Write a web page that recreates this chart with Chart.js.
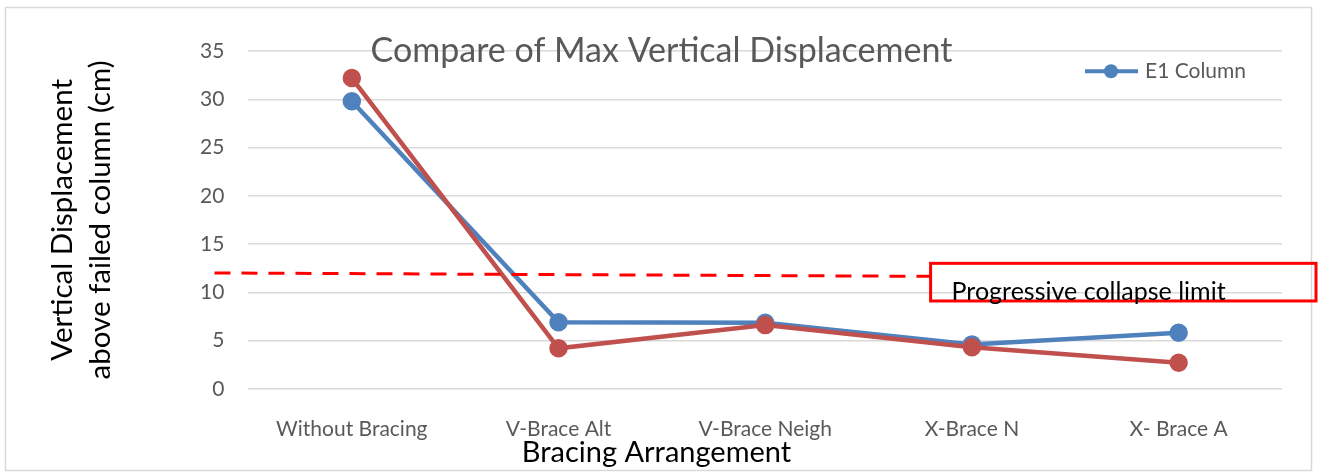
<!DOCTYPE html>
<html>
<head>
<meta charset="utf-8">
<title>Compare of Max Vertical Displacement</title>
<script src="https://cdn.jsdelivr.net/npm/chart.js@4.4.1/dist/chart.umd.min.js"></script>
<style>
  html, body { margin: 0; padding: 0; background: #fff; }
  #wrap { width: 1318px; height: 473px; position: relative; }
</style>
</head>
<body>
<div id="wrap"><canvas id="chart1"></canvas></div>
<script>
// data
const categories = ['Without Bracing', 'V-Brace Alt', 'V-Brace Neigh', 'X-Brace N', 'X- Brace A'];
const e1Column = [29.8, 6.9, 6.85, 4.6, 5.8];
const otherColumn = [32.2, 4.2, 6.6, 4.3, 2.7];
const yTicks = [0, 5, 10, 15, 20, 25, 30, 35];
const limitLine = [12, 11.65];     // dashed limit, start and end value
const limitBox = [13, 9.1];        // top / bottom of the red note box
const limitLabel = 'Progressive collapse limit';
const chartTitle = 'Compare of Max Vertical Displacement';
const xTitle = 'Bracing Arrangement';

const blue = '#4F81BD';
const red = '#C0504D';
const grey = '#595959';
const FONT = 'Lato';

// white page + thin grey frame
const frame = {
  id: 'frame',
  beforeDraw(chart) {
    const c = chart.ctx;
    c.save();
    c.fillStyle = '#fff';
    c.fillRect(0, 0, chart.width, chart.height);
    c.strokeStyle = '#D9D9D9';
    c.lineWidth = 1.5;
    c.strokeRect(5.5, 7.5, chart.width - 12, chart.height - 10);
    c.restore();
  }
};

// titles, legend, limit line and note (excel had them off-centre)
const extras = {
  id: 'extras',
  afterDraw(chart) {
    const c = chart.ctx;
    const a = chart.chartArea;
    const x = chart.scales.x;
    const y = chart.scales.y;
    c.save();

    // title sits right on the top gridline
    c.font = '34px ' + FONT;
    c.fillStyle = grey;
    c.textAlign = 'center';
    c.textBaseline = 'middle';
    c.fillText(chartTitle, a.left + 413, a.top);

    // x axis title
    c.font = '29px ' + FONT;
    c.fillStyle = '#000';
    c.fillText(xTitle, a.left + 408, a.bottom + 64);

    // legend, only the blue series
    const ly = y.getPixelForValue(32.9);
    const lx = a.right - 197;
    c.strokeStyle = blue;
    c.lineWidth = 4;
    c.beginPath();
    c.moveTo(lx, ly);
    c.lineTo(lx + 53, ly);
    c.stroke();
    c.fillStyle = blue;
    c.beginPath();
    c.arc(lx + 26, ly, 7, 0, Math.PI * 2);
    c.fill();
    c.font = '21px ' + FONT;
    c.fillStyle = grey;
    c.textAlign = 'left';
    c.fillText('E1 Column', lx + 60, ly);

    // dashed collapse limit
    const boxLeft = x.getPixelForValue(2.8);
    c.strokeStyle = '#FF0000';
    c.lineWidth = 3;
    c.setLineDash([16, 11]);
    c.beginPath();
    c.moveTo(a.left - 34, y.getPixelForValue(limitLine[0]));
    c.lineTo(boxLeft, y.getPixelForValue(limitLine[1]));
    c.stroke();
    c.setLineDash([]);

    // note box, runs off the right edge
    const bTop = y.getPixelForValue(limitBox[0]);
    const bBot = y.getPixelForValue(limitBox[1]);
    c.strokeRect(boxLeft, bTop, chart.width - 2 - boxLeft, bBot - bTop);
    c.font = '25px ' + FONT;
    c.fillStyle = '#000';
    c.textBaseline = 'alphabetic';
    c.fillText(limitLabel, boxLeft + 21, bBot - 1);

    c.restore();
  }
};

const ctx = document.getElementById('chart1');
const data = {
  labels: categories,
  datasets: [{
    label: 'E1 Column',
    data: e1Column,
    borderColor: blue,
    backgroundColor: blue,
    borderWidth: 4.5,
    pointRadius: 7,
    pointHoverRadius: 7,
    order: 1
  }, {
    label: 'Second Column',
    data: otherColumn,
    borderColor: red,
    backgroundColor: red,
    borderWidth: 4.5,
    pointRadius: 7,
    pointHoverRadius: 7,
    order: 0
  }]
};

const config = {
  type: 'line',
  data,
  options: {
    responsive: true,
    maintainAspectRatio: false,
    animation: false,
    layout: { padding: { top: 51, right: 36, bottom: 3, left: 43 } },
    plugins: {
      legend: { display: false },
      tooltip: { enabled: false }
    },
    scales: {
      x: {
        offset: true,
        grid: { display: false, drawTicks: false },
        border: { display: false },
        ticks: { color: grey, font: { family: FONT, size: 21 }, padding: 28 }
      },
      y: {
        min: 0,
        max: 35,
        afterBuildTicks(scale) { scale.ticks = yTicks.map(v => ({ value: v })); },
        grid: { color: '#D9D9D9', lineWidth: 1.5, drawTicks: false },
        border: { display: false },
        ticks: { color: grey, font: { family: FONT, size: 21 }, padding: 24 },
        title: {
          display: true,
          text: ['Vertical Displacement', 'above failed column (cm)'],
          color: '#000',
          font: { family: FONT, size: 29.5, lineHeight: 1.29 },
          padding: { top: 0, bottom: 57 }
        }
      }
    }
  },
  plugins: [frame, extras]
};

const myChart = new Chart(ctx, config);
</script>
</body>
</html>
